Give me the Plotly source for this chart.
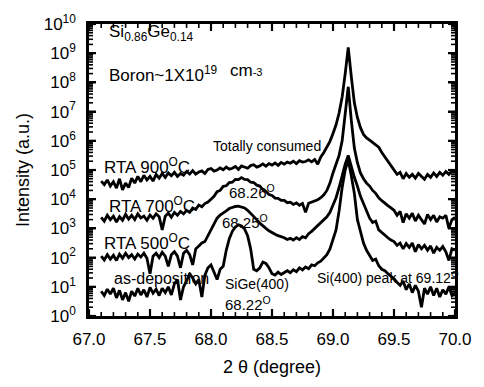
import numpy as np
import plotly.graph_objects as go

# ---- data ----
two_theta = np.round(67.1 + 0.025 * np.arange(117), 3)  # scan grid, degrees

# log10 of intensity (a.u.) for each scan
log_I_900 = [4.62, 4.50, 4.66, 4.45, 4.60, 4.38, 4.70, 4.32, 4.55, 4.40,
             4.72, 4.55, 4.78, 4.60, 4.82, 4.66, 4.78, 4.62, 4.85, 4.72,
             4.88, 4.75, 4.90, 4.80, 4.92, 4.78, 4.88, 4.82, 4.95, 4.86,
             4.98, 4.86, 4.93, 4.97, 4.88, 5.02, 5.05, 4.96, 5.00, 5.07,
             5.01, 5.10, 5.03, 5.06, 5.12, 5.02, 5.14, 5.10, 5.06, 5.15,
             5.18, 5.10, 5.14, 5.21, 5.13, 5.22, 5.17, 5.24, 5.16, 5.26,
             5.20, 5.27, 5.23, 5.30, 5.22, 5.32, 5.27, 5.29, 5.35, 5.28,
             5.36, 5.20, 5.45, 5.60, 5.78, 5.98, 6.25, 6.55, 6.95, 7.50,
             8.30, 9.20, 8.20, 7.30, 6.80, 6.45, 6.22, 6.10, 6.02, 5.95,
             5.88, 5.78, 5.60, 5.45, 5.30, 5.12, 4.98, 4.85, 4.92, 4.70,
             4.88, 4.75, 4.85, 4.72, 4.88, 4.78, 4.68, 4.85, 4.75, 4.90,
             4.78, 4.92, 4.82, 4.95, 4.85, 4.98, 4.95]

log_I_700 = [3.38, 3.25, 3.45, 3.30, 3.42, 3.22, 3.40, 3.28, 3.48, 3.32,
             3.45, 3.30, 3.50, 3.36, 3.42, 3.28, 3.46, 3.35, 3.50, 3.40,
             2.95, 3.42, 3.52, 3.38, 3.55, 3.45, 3.58, 3.50, 3.62, 3.55,
             3.70, 3.65, 3.80, 3.74, 3.85, 3.90, 4.00, 4.10, 4.26, 4.30,
             4.44, 4.46, 4.57, 4.58, 4.68, 4.67, 4.74, 4.68, 4.67, 4.58,
             4.57, 4.48, 4.45, 4.33, 4.27, 4.16, 4.13, 4.04, 4.03, 3.96,
             3.96, 3.88, 3.90, 3.82, 3.87, 3.79, 3.85, 3.55, 3.86, 3.90,
             3.92, 3.98, 4.05, 4.15, 4.30, 4.55, 4.90, 5.20, 5.50, 6.00,
             6.90, 7.85, 6.70, 5.75, 5.25, 4.90, 4.70, 4.55, 4.45, 4.30,
             4.20, 4.05, 3.95, 3.85, 3.78, 3.70, 3.62, 3.45, 3.58, 3.20,
             3.50, 3.35, 3.52, 3.25, 3.45, 3.30, 3.15, 3.48, 3.30, 3.45,
             3.22, 3.40, 3.35, 3.45, 3.00, 3.30, 3.38]

log_I_500 = [2.05, 1.92, 2.10, 1.95, 2.08, 1.90, 2.12, 1.98, 2.15, 2.00,
             2.10, 1.95, 2.12, 2.02, 2.15, 1.98, 1.45, 2.05, 2.15, 2.00,
             2.18, 2.05, 1.70, 2.10, 2.20, 2.05, 1.65, 2.15, 2.25, 2.10,
             1.75, 2.30, 2.40, 2.50, 2.55, 2.75, 2.95, 3.20, 3.35, 3.46,
             3.52, 3.60, 3.68, 3.72, 3.75, 3.76, 3.74, 3.70, 3.62, 3.52,
             3.42, 3.30, 3.18, 3.08, 3.00, 2.92, 2.85, 2.80, 2.75, 2.72,
             2.68, 2.62, 2.66, 2.60, 2.68, 2.62, 2.72, 2.68, 2.82, 2.90,
             3.00, 3.08, 3.20, 3.30, 3.40, 3.55, 3.78, 4.05, 4.40, 4.85,
             5.20, 5.50, 5.10, 4.75, 4.45, 4.10, 3.85, 3.60, 3.35, 3.20,
             3.25, 2.95, 2.85, 2.75, 2.68, 2.60, 2.55, 2.42, 2.50, 2.30,
             2.48, 2.35, 2.50, 2.20, 2.45, 2.30, 2.42, 2.25, 2.40, 2.15,
             2.35, 2.25, 2.38, 2.20, 1.90, 2.30, 2.25]

log_I_asdep = [0.85, 0.70, 0.92, 0.75, 0.95, 0.62, 0.88, 0.55, 0.80, 0.50,
               0.85, 0.68, 0.95, 0.72, 0.90, 0.65, 0.98, 0.78, 0.92, 0.70,
               0.95, 0.80, 1.00, 0.72, 1.10, 1.25, 0.55, 1.00, 1.20, 1.45,
               1.30, 1.10, 1.25, 0.65, 1.40, 1.65, 1.75, 1.50, 1.25, 1.60,
               1.70, 2.25, 2.65, 2.90, 3.05, 3.12, 3.08, 2.98, 2.75, 2.30,
               1.60, 1.55, 1.65, 1.85, 1.80, 1.65, 1.45, 1.40, 1.50, 1.42,
               1.48, 1.55, 1.48, 1.58, 1.52, 1.65, 1.58, 1.68, 1.62, 1.75,
               1.72, 1.82, 1.88, 1.98, 2.10, 2.30, 2.60, 2.95, 3.60, 4.40,
               5.00, 5.35, 4.80, 4.20, 3.30, 2.85, 2.50, 2.25, 2.05, 1.90,
               1.95, 1.72, 1.60, 1.55, 1.45, 1.38, 1.28, 1.15, 1.05, 1.20,
               0.90, 1.10, 0.80, 1.05, 0.85, 0.30, 0.95, 0.75, 1.00, 0.70,
               0.95, 0.65, 0.90, 0.75, 1.00, 0.70, 0.80]

x_range = [67, 70]
y_log_range = [0, 10]
x_tick_vals = [67.0, 67.5, 68.0, 68.5, 69.0, 69.5, 70.0]
x_tick_text = ["67.0", "67.5", "68.0", "68.5", "69.0", "69.5", "70.0"]
x_minor_vals = [round(67.0 + 0.1 * k, 1) for k in range(31)]
y_exponents = [0, 1, 2, 3, 4, 5, 6, 7, 8, 9, 10]
y_tick_text = ["10<sup>%d</sup>" % e for e in y_exponents]
y_minor_vals = [m * 10 ** e for e in y_exponents[:-1] for m in range(2, 10)]

series = [("RTA 900", log_I_900), ("RTA 700", log_I_700),
          ("RTA 500", log_I_500), ("as-deposition", log_I_asdep)]

FONT = "Liberation Sans, Arial, sans-serif"
W, H = 484, 387
M = dict(l=89, r=28, t=18, b=71)
PW, PH = W - M["l"] - M["r"], H - M["t"] - M["b"]
x_per_px = (x_range[1] - x_range[0]) / PW
dec_per_px = (y_log_range[1] - y_log_range[0]) / PH

fig = go.Figure()
for name, vals in series:
    fig.add_trace(go.Scatter(x=two_theta, y=10 ** np.array(vals), mode="lines",
                             name=name, showlegend=False, hoverinfo="skip",
                             line=dict(color="black", width=2.8)))

# inside tick marks on all four sides, built from the axis scales
def tick_trace(xv, yv, L, width):
    xs, ys = [], []
    for v in xv:          # bottom and top ticks
        xs += [v, v, None, v, v, None]
        ys += [10 ** y_log_range[0], 10 ** (y_log_range[0] + L * dec_per_px), None,
               10 ** y_log_range[1], 10 ** (y_log_range[1] - L * dec_per_px), None]
    for v in yv:          # left and right ticks
        xs += [x_range[0], x_range[0] + L * x_per_px, None,
               x_range[1], x_range[1] - L * x_per_px, None]
        ys += [v, v, None, v, v, None]
    fig.add_trace(go.Scatter(x=xs, y=ys, mode="lines", showlegend=False,
                             hoverinfo="skip", connectgaps=False,
                             line=dict(color="black", width=width)))

tick_trace(x_minor_vals, y_minor_vals, 4, 1.6)
tick_trace(x_tick_vals, [10 ** e for e in y_exponents], 7, 2.2)

fig.update_layout(width=W, height=H, margin=M,
                  plot_bgcolor="white", paper_bgcolor="white",
                  font=dict(family=FONT, size=17, color="black"),
                  showlegend=False)

axis_common = dict(ticks="inside", ticklen=7, tickwidth=2.2, tickcolor="black",
                   showline=True, linewidth=2.5, linecolor="black",
                   mirror="ticks", showgrid=False, zeroline=False)
fig.update_layout(
    xaxis=dict(range=x_range, tickmode="array", tickvals=x_tick_vals,
               ticktext=x_tick_text, ticklabelstandoff=6, **axis_common),
    yaxis=dict(type="log", range=y_log_range, tickmode="array",
               tickvals=[10 ** e for e in y_exponents], ticktext=y_tick_text,
               ticklabelstandoff=7, **axis_common),
)

def note(text, x, y, size=17, anchor="left"):
    fig.add_annotation(text=text, x=x, y=y, xref="x", yref="y", showarrow=False,
                       xanchor=anchor, yanchor="middle",
                       font=dict(family=FONT, size=size, color="black"))

note("Si<sub>0.86</sub>Ge<sub>0.14</sub>", 67.15, 9.68)
note("Boron~1X10<sup>19</sup>", 67.15, 8.30)
note("cm<span style='font-size:11px'>-3</span>", 68.14, 8.42)
note("RTA 900<sup>O</sup>C", 67.11, 5.13)
note("RTA 700<sup>O</sup>C", 67.15, 3.79)
note("RTA 500<sup>O</sup>C", 67.11, 2.52)
note("as-deposition", 67.19, 1.28, size=16)
note("Totally consumed", 68.0, 5.81, size=14)
note("68.26<sup>O</sup>", 68.13, 4.26, size=15)
note("68.25<sup>O</sup>", 68.07, 3.22, size=15)
note("SiGe(400)", 68.10, 1.11, size=14)
note("68.22<sup>O</sup>", 68.10, 0.44, size=15)
note("Si(400) peak at 69.12<sup>O</sup>", 68.85, 1.34, size=14)

fig.add_annotation(text="2 θ (degree)", x=0.5, y=0, xref="paper", yref="paper",
                   yshift=-51, showarrow=False, xanchor="center", yanchor="middle",
                   font=dict(family=FONT, size=18, color="black"))
fig.add_annotation(text="Intensity (a.u.)", x=0, y=0.5, xref="paper", yref="paper",
                   xshift=-66, textangle=-90, showarrow=False,
                   xanchor="center", yanchor="middle",
                   font=dict(family=FONT, size=18, color="black"))

fig.write_html("out.html")
